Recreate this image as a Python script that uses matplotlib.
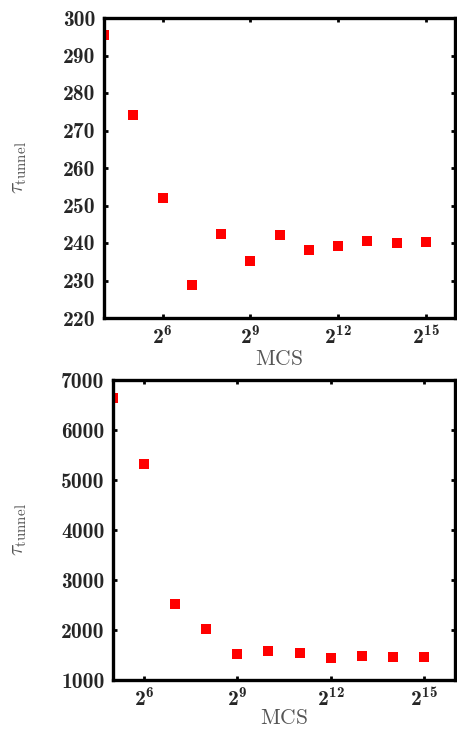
import numpy as np
import matplotlib
matplotlib.use("Agg")
import matplotlib.pyplot as plt
from matplotlib.ticker import FixedLocator

plt.rcParams['mathtext.fontset'] = 'cm'
plt.rcParams['mathtext.rm'] = 'cmr10'
plt.rcParams['mathtext.it'] = 'cmmi10'
plt.rcParams['mathtext.bf'] = 'cmb10'
plt.rcParams['mathtext.cal'] = 'cmsy10'
plt.rcParams['font.family'] = 'serif'
plt.rcParams['font.serif'] = ['DejaVu Serif']

# data
exp_top = [4, 5, 6, 7, 8, 9, 10, 11, 12, 13, 14, 15]
tau_top = [295.5, 274.2, 252.0, 228.9, 242.4, 235.2, 242.2, 238.1, 239.2, 240.5, 240.1, 240.3]
exp_bot = [5, 6, 7, 8, 9, 10, 11, 12, 13, 14, 15]
tau_bot = [6650, 5330, 2520, 2020, 1520, 1580, 1540, 1440, 1480, 1460, 1460]
xtick_exps = [6, 9, 12, 15]

fig = plt.figure(figsize=(4.57, 7.29), dpi=100)
ax1 = fig.add_axes([104/457, (729-318)/729, (455-104)/457, 300/729])
ax2 = fig.add_axes([113/457, (729-680)/729, (455-113)/457, 300/729])

def style(ax, xs, ys, xlim, ylim, yticks, xpad):
    ax.plot([2.0**e for e in xs], ys, 's', color='#ff0000', markersize=6.7, markeredgewidth=0)
    ax.set_xscale('log', base=2)
    ax.set_xlim(2.0**xlim[0], 2.0**xlim[1])
    ax.set_ylim(*ylim)
    xt = [2.0**e for e in xtick_exps]
    ax.set_xticks(xt)
    ax.set_xticklabels([r'$\mathbf{2^{%d}}$' % e for e in xtick_exps])
    ax.xaxis.set_minor_locator(FixedLocator([]))
    ax.set_yticks(yticks)
    ax.set_yticklabels(['%d' % v for v in yticks])
    for s in ax.spines.values():
        s.set_linewidth(2.4)
    ax.tick_params(direction='in', length=3, width=2, top=True, right=True,
                   labelsize=15.5, labelcolor='#262626', pad=6)
    for lbl in ax.get_xticklabels():
        lbl.set_math_fontfamily('custom')
    for lbl in ax.get_yticklabels():
        lbl.set_family('cmb10')
    ax.set_xlabel(r'$\mathrm{MCS}$', fontsize=15.5, color='#555555', labelpad=xpad)
    ax.set_ylabel(r'$\tau_{\mathrm{tunnel}}$', fontsize=15.5, color='#555555')

style(ax1, exp_top, tau_top, (4, 16), (220, 300), list(range(220, 301, 10)), -1)
style(ax2, exp_bot, tau_bot, (5, 16), (1000, 7000), list(range(1000, 7001, 1000)), -3)
ax1.yaxis.set_label_coords(-0.215, 0.5)
ax2.yaxis.set_label_coords(-0.247, 0.5)

fig.savefig('out.png', dpi=100)
